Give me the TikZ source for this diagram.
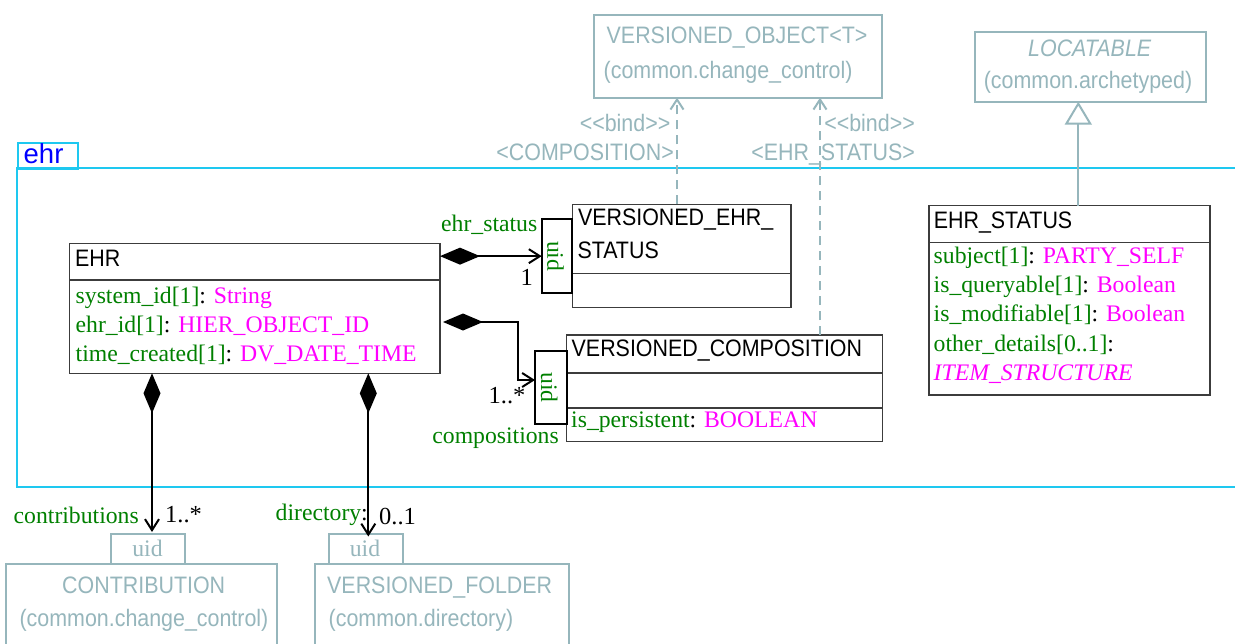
\documentclass[tikz,border=0pt]{standalone}
\usepackage{fontspec}
\setmainfont{Liberation Serif}
\newfontfamily\cnd[FakeStretch=0.9]{Liberation Sans}
\newfontfamily\sfn{Liberation Sans}
\usetikzlibrary{arrows.meta,calc}
\definecolor{pkg}{RGB}{30,200,240}
\definecolor{ext}{RGB}{150,182,188}
\definecolor{attr}{RGB}{0,128,0}
\definecolor{typ}{RGB}{255,0,255}
\definecolor{bx}{RGB}{60,60,60}
\begin{document}
\begin{tikzpicture}[x=1pt,y=-1pt,
  box/.style={draw=bx,line width=1.2pt,anchor=north west,inner sep=0pt,outer sep=0pt},
  extbox/.style={draw=ext,line width=2pt,anchor=north west,inner sep=0pt,outer sep=0pt},
  qual/.style={draw=black,line width=2pt,anchor=north west,inner sep=0pt,outer sep=0pt},
  sep/.style={draw=bx,line width=1.2pt},
  sf/.style={font=\cnd\fontsize{23.8}{28}\selectfont,inner sep=0pt},
  rm/.style={font=\fontsize{23.7}{28}\selectfont,inner sep=0pt},
  mult/.style={font=\fontsize{24.5}{28}\selectfont,inner sep=0pt,anchor=base west},
  hdr/.style={sf,anchor=base west,text=black},
  att/.style={rm,anchor=base west,text=attr},
  grey/.style={sf,text=ext},
  comp/.style={draw=black,line width=2pt,{Diamond[length=40pt,width=17pt]}-{Straight Barb[length=11pt,width=14pt]}},
  bind/.style={draw=ext,line width=2pt,dash pattern=on 9pt off 6pt,-{Straight Barb[length=10pt,width=13pt]}},
  gen/.style={draw=ext,line width=2pt,-{Triangle[open,length=23pt,width=27pt,fill=white]}}
]
\useasboundingbox (0,0) rectangle (1235,643);
\fill[white] (0,0) rectangle (1235,643);

% package frame
\draw[pkg,line width=2pt] (1240,167.5) -- (16.6,167.5) -- (16.6,487) -- (1240,487);
\node[draw=pkg,line width=2pt,anchor=north west,inner sep=0pt,minimum width=60.4pt,minimum height=25.8pt] (tab) at (16.6,141.7) {};
\node[font=\sfn\fontsize{27.5}{30}\selectfont,text=blue,inner sep=0pt,anchor=base west] (pkgname) at (23.5,163.3) {ehr};

% external classes
\node[extbox,minimum width=288.3pt,minimum height=83.2pt] (vo) at (594,14.5) {};
\node[grey,anchor=base west] (vo1) at (606.5,43.3) {VERSIONED\_OBJECT<T>};
\node[grey,anchor=base west] (vo2) at (603.5,78.4) {(common.change\_control)};

\node[extbox,minimum width=231.4pt,minimum height=70pt] (loc) at (974.6,31.7) {};
\node[grey,anchor=base,font=\cnd\itshape\fontsize{23.8}{28}\selectfont] (loc1) at (1089.7,56.7) {LOCATABLE};
\node[grey,anchor=base] (loc2) at (1088,88.4) {(common.archetyped)};

\node[grey,anchor=base east] (b1a) at (670.5,131.7) {<{}<bind>{}>};
\node[grey,anchor=base east] (b1b) at (674,160) {<COMPOSITION>};
\node[grey,anchor=base east] (b2a) at (915,131.7) {<{}<bind>{}>};
\node[grey,anchor=base east] (b2b) at (915,160) {<EHR\_STATUS>};

% EHR
\node[box,minimum width=370.7pt,minimum height=130pt] (ehr) at (69.3,243.3) {};
\draw[sep] ($(ehr.north west)+(0,36.7)$) -- ($(ehr.north east)+(0,36.7)$);
\node[hdr] (ehrn) at (75,266.7) {EHR};
\node[att] (ea1) at (75.5,303.3) {system\_id[1]\textcolor{black}{: }\textcolor{typ}{String}};
\node[att] (ea2) at (75.5,332.3) {ehr\_id[1]\textcolor{black}{: }\textcolor{typ}{HIER\_OBJECT\_ID}};
\node[att] (ea3) at (75.5,361.3) {time\_created[1]\textcolor{black}{: }\textcolor{typ}{DV\_DATE\_TIME}};

% VERSIONED_EHR_STATUS
\node[box,minimum width=218.7pt,minimum height=103pt] (ves) at (572.3,204.3) {};
\draw[sep] ($(ves.north west)+(0,69)$) -- ($(ves.north east)+(0,69)$);
\node[hdr] (vesn1) at (577.8,225.7) {VERSIONED\_EHR\_};
\node[hdr] (vesn2) at (577.3,258.5) {STATUS};
\node[qual,minimum width=30.6pt,minimum height=74.3pt] (q1) at (541.7,219) {};
\node[rm,text=attr,rotate=-90] (q1t) at ($(q1.center)+(-1.5,0)$) {uid};

% VERSIONED_COMPOSITION
\node[box,minimum width=315.6pt,minimum height=106.7pt] (vc) at (566.7,335) {};
\draw[sep] ($(vc.north west)+(0,38)$) -- ($(vc.north east)+(0,38)$);
\draw[sep] ($(vc.north west)+(0,73)$) -- ($(vc.north east)+(0,73)$);
\node[hdr] (vcn) at (571.5,356.7) {VERSIONED\_COMPOSITION};
\node[att] (vca1) at (571,427.5) {is\_persistent\textcolor{black}{: }\textcolor{typ}{BOOLEAN}};
\node[qual,minimum width=31.7pt,minimum height=73.3pt] (q2) at (535,351) {};
\node[rm,text=attr,rotate=-90] (q2t) at ($(q2.center)+(-1.5,0)$) {uid};

% EHR_STATUS
\node[box,minimum width=281pt,minimum height=189.3pt] (ehrst) at (929,205.7) {};
\draw[sep] ($(ehrst.north west)+(0,37)$) -- ($(ehrst.north east)+(0,37)$);
\node[hdr] (esn) at (933.6,228.3) {EHR\_STATUS};
\node[att] (es1) at (933.5,263.3) {subject[1]\textcolor{black}{: }\textcolor{typ}{PARTY\_SELF}};
\node[att] (es2) at (933.5,292.5) {is\_queryable[1]\textcolor{black}{: }\textcolor{typ}{Boolean}};
\node[att] (es3) at (933.5,321.7) {is\_modifiable[1]\textcolor{black}{: }\textcolor{typ}{Boolean}};
\node[att] (es4) at (933.5,351) {other\_details[0..1]\textcolor{black}{:}};
\node[att,text=typ,font=\itshape\fontsize{23.7}{28}\selectfont] (es5) at (933.5,380) {ITEM\_STRUCTURE};

% bottom external classes
\node[extbox,minimum width=74.3pt,minimum height=30.3pt] (ctab) at (110.7,534) {};
\node[rm,text=ext,anchor=base] (ctabt) at (147.5,556) {uid};
\node[extbox,minimum width=270.4pt,minimum height=100pt] (contr) at (6.3,564.3) {};
\node[grey,anchor=base] (contr1) at (143.7,593.3) {CONTRIBUTION};
\node[grey,anchor=base] (contr2) at (144,626.8) {(common.change\_control)};

\node[extbox,minimum width=74pt,minimum height=30.3pt] (vftab) at (329,533.5) {};
\node[rm,text=ext,anchor=base] (vftabt) at (365,556) {uid};
\node[extbox,minimum width=254.4pt,minimum height=100pt] (vf) at (314.6,563.8) {};
\node[grey,anchor=base west] (vf1) at (327,593.3) {VERSIONED\_FOLDER};
\node[grey,anchor=base west] (vf2) at (328.5,626.8) {(common.directory)};

% connectors
\draw[comp] (ehr.east |- q1.west) -- (q1.west);
\node[att] (l1) at (441,231.7) {ehr\_status};
\node[mult] (m1) at (520.5,285) {1};

\coordinate (k1) at ($(ehr.north east)+(78,78.7)$);
\coordinate (k2) at ($(ehr.north east)+(78,136.7)$);
\draw[comp,shorten <=3pt] (ehr.east |- k1) -- (k1) -- (k2) -- (q2.west |- k2);
\node[mult] (m2) at (488.5,403) {1..*};
\node[att,anchor=base east] (l2) at (559,443) {compositions};

\coordinate (s1) at ($(ehr.south west)+(82.7,0)$);
\draw[comp] (s1) -- ($(s1 |- ctab.north)+(0,-2)$);
\node[att] (l3) at (13.5,523) {contributions};
\node[mult] (m3) at (165,522) {1..*};

\coordinate (s2) at ($(ehr.south west)+(299,0)$);
\draw[comp] (s2) -- ($(s2 |- vftab.north)+(0,3)$);
\node[att] (l4) at (275.5,520) {directory\textcolor{black}{:}};
\node[mult] (m4) at (379,524) {0..1};

\coordinate (d1) at ($(ves.north west)+(104.7,0)$);
\draw[bind] (d1) -- (d1 |- vo.south);
\coordinate (d2) at ($(vc.north west)+(253.3,0)$);
\draw[bind] (d2) -- (d2 |- vo.south);

\coordinate (g1) at ($(ehrst.north west)+(149.3,0)$);
\draw[gen] (g1) -- (g1 |- loc.south);
\end{tikzpicture}
\end{document}
